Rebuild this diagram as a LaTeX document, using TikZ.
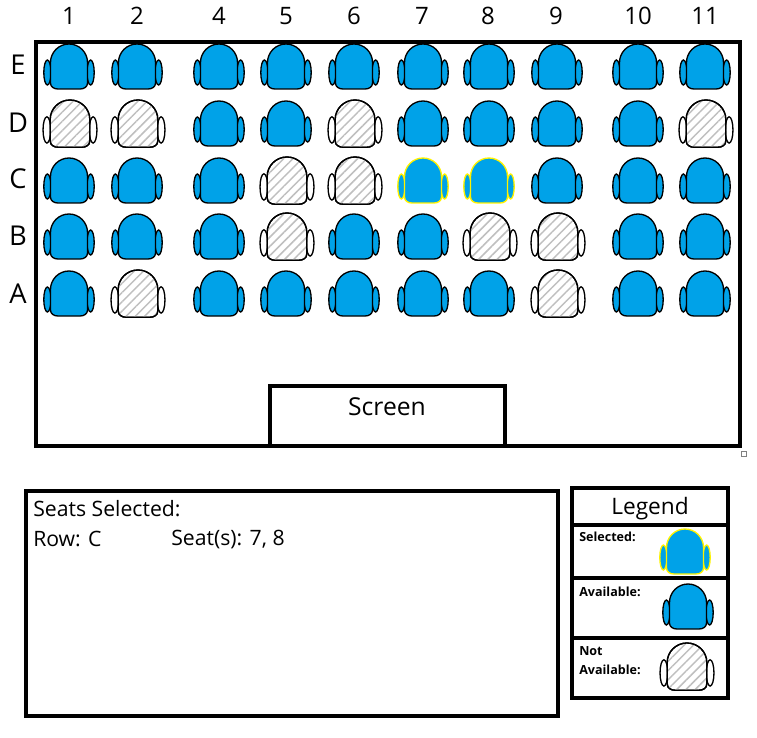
\documentclass[tikz,border=0pt]{standalone}
\usepackage{fontspec}
\setmainfont{Open Sans}
\usetikzlibrary{patterns.meta}
\definecolor{seatblue}{RGB}{0,162,232}
\definecolor{seatyellow}{RGB}{255,242,0}
\tikzset{
	frame/.style={draw=black, line width=3pt},
	seatshade/.style={},
	seatfree/.style={draw=black, line width=1pt, fill=seatblue},
	seatpicked/.style={draw=seatyellow, line width=1pt, fill=seatblue},
	seattaken/.style={draw=black, line width=1pt, fill=white, xscale=1.07, yscale=1.05,
		seatshade/.style={draw=black, line width=1pt, pattern={Lines[angle=45, distance=4.9pt, line width=1.1pt]}, pattern color=black!25}},
	headlabel/.style={font=\fontsize{18}{20}\selectfont},
	rowlabel/.style={font=\fontsize{20.5}{22}\selectfont},
	panellabel/.style={font=\fontsize{15.9}{18}\selectfont, anchor=west, inner sep=0pt},
	keylabel/.style={font=\fontsize{9.4}{11}\selectfont\bfseries, anchor=west, inner sep=0pt},
	pics/seat/.style={code={
		\path[pic actions] (-21.6,28.5) ellipse [x radius=3.6, y radius=12.5];
		\path[pic actions] (21.6,28.5) ellipse [x radius=3.6, y radius=12.5];
		\path[pic actions] (-18.5,39) -- (-18.5,18.5) .. controls (-18.5,8.3) and (-10.2,0) .. (0,0)
			.. controls (10.2,0) and (18.5,8.3) .. (18.5,18.5) -- (18.5,39)
			.. controls (18.5,43) and (15,45) .. (11,45) -- (-11,45)
			.. controls (-15,45) and (-18.5,43) .. (-18.5,39) -- cycle;
		\path[seatshade] (-18.5,39) -- (-18.5,18.5) .. controls (-18.5,8.3) and (-10.2,0) .. (0,0)
			.. controls (10.2,0) and (18.5,8.3) .. (18.5,18.5) -- (18.5,39)
			.. controls (18.5,43) and (15,45) .. (11,45) -- (-11,45)
			.. controls (-15,45) and (-18.5,43) .. (-18.5,39) -- cycle;
	}}
}
\begin{document}
\begin{tikzpicture}[x=.75pt, y=-.75pt]
	\useasboundingbox (0,0) rectangle (757,738);

	% frames
	\draw[frame] (36,42) rectangle (740,446);
	\draw[frame] (270,446) -- (270,386) -- (505,386) -- (505,446);
	\draw[frame] (26,491) rectangle (558,716);
	\draw[frame] (572,488) rectangle (728,698);
	\foreach \y in {525, 578, 638}{
		\draw[frame] (572,\y) -- (728,\y);
	}
	\draw[black!50, line width=.6pt] (741,451) rectangle (746,456);

	% column numbers and row letters
	\foreach \x/\n in {69/1, 137/2, 219/4, 286/5, 354/6, 422/7, 488/8, 556/9, 638/10, 705/11}{
		\node[headlabel] (col\n) at (\x,16) {\n};
	}
	\foreach \y/\n in {65/E, 123/D, 179/C, 236/B, 294/A}{
		\node[rowlabel] (row\n) at (18,\y) {\n};
	}

	% seats
	\foreach \y/\cols in {44/{69,137,219,286,354,423,489,557,638,705},
		101/{219,286,423,489,557,638},
		158/{69,137,219,557,638,705},
		214/{69,137,219,354,423,638,705},
		271/{69,219,286,354,423,489,638,705}}{
		\foreach \x in \cols{
			\pic[seatfree] at (\x,\y) {seat};
		}
	}
	\foreach \x/\y in {70/100, 138/100, 355/100, 706/100, 287/157, 355/157,
		287/213, 490/213, 558/213, 138/270, 558/270}{
		\pic[seattaken] at (\x,\y) {seat};
	}
	\foreach \x in {423, 489}{
		\pic[seatpicked] at (\x,158) {seat};
	}

	\node[font=\fontsize{18.5}{20}\selectfont] (screen) at (387,407) {Screen};

	% selection panel
	\node[panellabel] (seatshead) at (33,509) {Seats Selected:};
	\node[panellabel] (rowtext) at (33,539) {Row: C};
	\node[panellabel] (seattext) at (171,539) {Seat(s): 7, 8};

	% legend
	\node[font=\fontsize{17}{20}\selectfont] (legend) at (650,509) {Legend};
	\node[keylabel] (keypicked) at (579,537) {Selected:};
	\node[keylabel] (keyfree) at (579,592) {Available:};
	\node[keylabel] (keynot) at (579,651) {Not};
	\node[keylabel] (keytaken) at (579,670) {Available:};
	\pic[seatpicked] at (685,529) {seat};
	\pic[seatfree] at (688,584) {seat};
	\pic[seattaken] at (687,643) {seat};
\end{tikzpicture}
\end{document}
